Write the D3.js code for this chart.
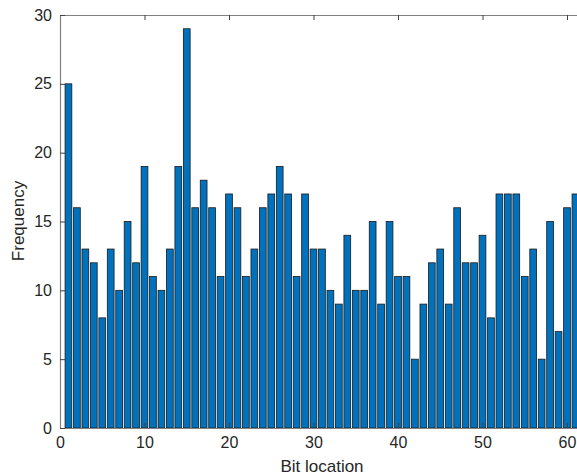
<!DOCTYPE html>
<html>
<head>
<meta charset="utf-8">
<script src="https://cdn.jsdelivr.net/npm/d3@7"></script>
<style>
  body { margin: 0; background: #fff; }
  svg { display: block; overflow: hidden; }
  text { font-family: "Liberation Sans", Arial, sans-serif; }
</style>
</head>
<body>
<div id="chart"></div>
<script>
// bit positions and counts
var bits = d3.range(1, 62);
var freq = [25, 16, 13, 12, 8, 13, 10, 15, 12, 19,
            11, 10, 13, 19, 29, 16, 18, 16, 11, 17,
            16, 11, 13, 16, 17, 19, 17, 11, 17, 13,
            13, 10, 9, 14, 10, 10, 15, 9, 15, 11,
            11, 5, 9, 12, 13, 9, 16, 12, 12, 14,
            8, 17, 17, 17, 11, 13, 5, 15, 7, 16, 17];
var xTicks = [0, 10, 20, 30, 40, 50, 60];
var yTicks = [0, 5, 10, 15, 20, 25, 30];

var W = 577, H = 476;
var margin = {left: 60, top: 15, bottom: 428};
var pxPerUnit = 8.45;

var svg = d3.select("#chart").append("svg")
  .attr("width", W).attr("height", H);

var x = d3.scaleLinear().domain([0, 65]).range([margin.left, margin.left + 65 * pxPerUnit]);
var y = d3.scaleLinear().domain([0, 30]).range([margin.bottom, margin.top]);

var axisColor = "#808080", textColor = "#262626";
var barW = 0.8 * pxPerUnit;

// bars
svg.selectAll("rect.bar")
  .data(bits)
  .enter()
  .append("rect")
  .attr("class", "bar")
  .attr("x", function(d) { return x(d) - barW / 2; })
  .attr("y", function(d, i) { return y(freq[i]); })
  .attr("width", barW)
  .attr("height", function(d, i) { return y(0) - y(freq[i]); })
  .attr("fill", "#0072BD")
  .attr("stroke", "#1a1a1a")
  .attr("stroke-width", 0.8);

// axes
var xAxis = svg.append("g")
  .attr("transform", "translate(0," + margin.bottom + ")")
  .call(d3.axisBottom(x).tickValues(xTicks).tickSizeInner(-5).tickSizeOuter(0).tickPadding(9));
var xTop = svg.append("g")
  .attr("transform", "translate(0," + margin.top + ")")
  .call(d3.axisTop(x).tickValues(xTicks).tickSizeInner(-5).tickSizeOuter(0).tickFormat(""));
var yAxis = svg.append("g")
  .attr("transform", "translate(" + margin.left + ",0)")
  .call(d3.axisLeft(y).tickValues(yTicks).tickSizeInner(-5).tickSizeOuter(0).tickPadding(8));

[xAxis, xTop, yAxis].forEach(function(g) {
  g.select(".domain").attr("stroke", axisColor).attr("stroke-width", 1.2);
  g.selectAll(".tick line").attr("stroke", "#404040");
  g.selectAll(".tick text").attr("fill", textColor).style("font-size", "16px")
    .style("font-family", "'Liberation Sans', Arial, sans-serif");
});

// axis labels
svg.append("text")
  .attr("x", 322).attr("y", 472)
  .attr("text-anchor", "middle")
  .attr("fill", textColor)
  .style("font-size", "17px")
  .text("Bit location");

svg.append("text")
  .attr("transform", "translate(24,221) rotate(-90)")
  .attr("text-anchor", "middle")
  .attr("fill", textColor)
  .style("font-size", "17px")
  .text("Frequency");
</script>
</body>
</html>
